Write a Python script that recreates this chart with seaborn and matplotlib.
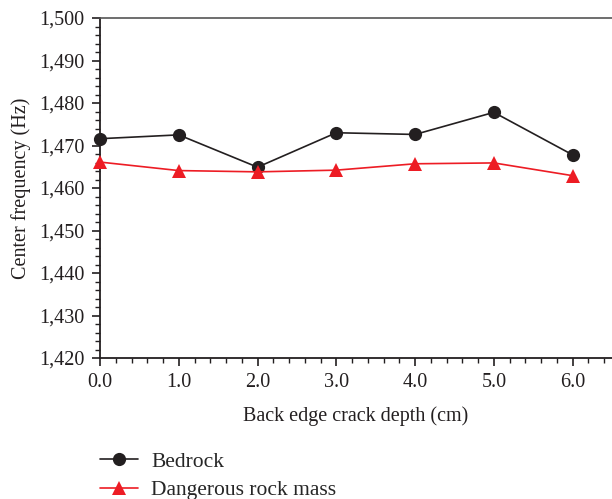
import matplotlib
matplotlib.use("Agg")
import matplotlib.pyplot as plt
import seaborn as sns
import pandas as pd
from matplotlib.ticker import MultipleLocator, FuncFormatter

depth = [0.0, 1.0, 2.0, 3.0, 4.0, 5.0, 6.0]
bedrock = [1471.6, 1472.5, 1464.9, 1473.0, 1472.6, 1477.8, 1467.8]
dangerous = [1466.1, 1464.1, 1463.8, 1464.2, 1465.7, 1465.9, 1462.9]
series_names = ["Bedrock", "Dangerous rock mass"]

df = pd.DataFrame({
    "depth": depth * 2,
    "freq": bedrock + dangerous,
    "series": [series_names[0]] * len(depth) + [series_names[1]] * len(depth),
})

sns.set_theme(style="white")
plt.rcParams['font.family'] = ['Liberation Serif', 'DejaVu Serif']

fig = plt.figure(figsize=(6.12, 4.99), dpi=100)
ax = fig.add_axes([100/612, 1-358/499, 1-100/612, (358-18)/499])

sns.lineplot(data=df, x="depth", y="freq", hue="series", style="series",
             palette={series_names[0]: "#231f20", series_names[1]: "#ed1c24"},
             markers={series_names[0]: "o", series_names[1]: "^"},
             dashes=False, markersize=9.5, linewidth=1.2, markeredgewidth=0,
             ax=ax, legend=True)
for ln in ax.lines:
    ln.set_clip_on(False)
    ln.set_zorder(5)

ax.set_xlim(0, 6.5)
ax.set_ylim(1420, 1500)
ax.xaxis.set_major_locator(MultipleLocator(1.0))
ax.xaxis.set_minor_locator(MultipleLocator(0.2))
ax.yaxis.set_major_locator(MultipleLocator(10))
ax.yaxis.set_minor_locator(MultipleLocator(2))
ax.xaxis.set_major_formatter(FuncFormatter(lambda v, p: f"{v:.1f}"))
ax.yaxis.set_major_formatter(FuncFormatter(lambda v, p: f"{int(v):,}"))

ax.tick_params(which="both", direction="out", bottom=True, left=True, top=False, right=False,
               colors="#231f20", labelsize=14.5)
ax.tick_params(which="major", length=6, width=1.2, pad=5)
ax.tick_params(which="minor", length=3.5, width=1.0)
for s in ["left", "bottom"]:
    ax.spines[s].set_color("#231f20")
    ax.spines[s].set_linewidth(1.3)
ax.spines["top"].set_color("#555555")
ax.spines["top"].set_linewidth(1.2)
ax.spines["right"].set_visible(False)

ax.set_xlabel("Back edge crack depth (cm)", fontsize=14.5, color="#231f20", labelpad=10)
ax.set_ylabel("Center frequency (Hz)", fontsize=14.5, color="#231f20", labelpad=6)

handles, labels = ax.get_legend_handles_labels()
ax.legend_.remove()
fig.legend(handles, labels, loc="upper left", bbox_to_anchor=(91/612, 1-443/499),
           frameon=False, fontsize=15.5, handlelength=1.8, labelspacing=0.4,
           handletextpad=0.6, borderaxespad=0)

fig.savefig("out.png", dpi=100)
